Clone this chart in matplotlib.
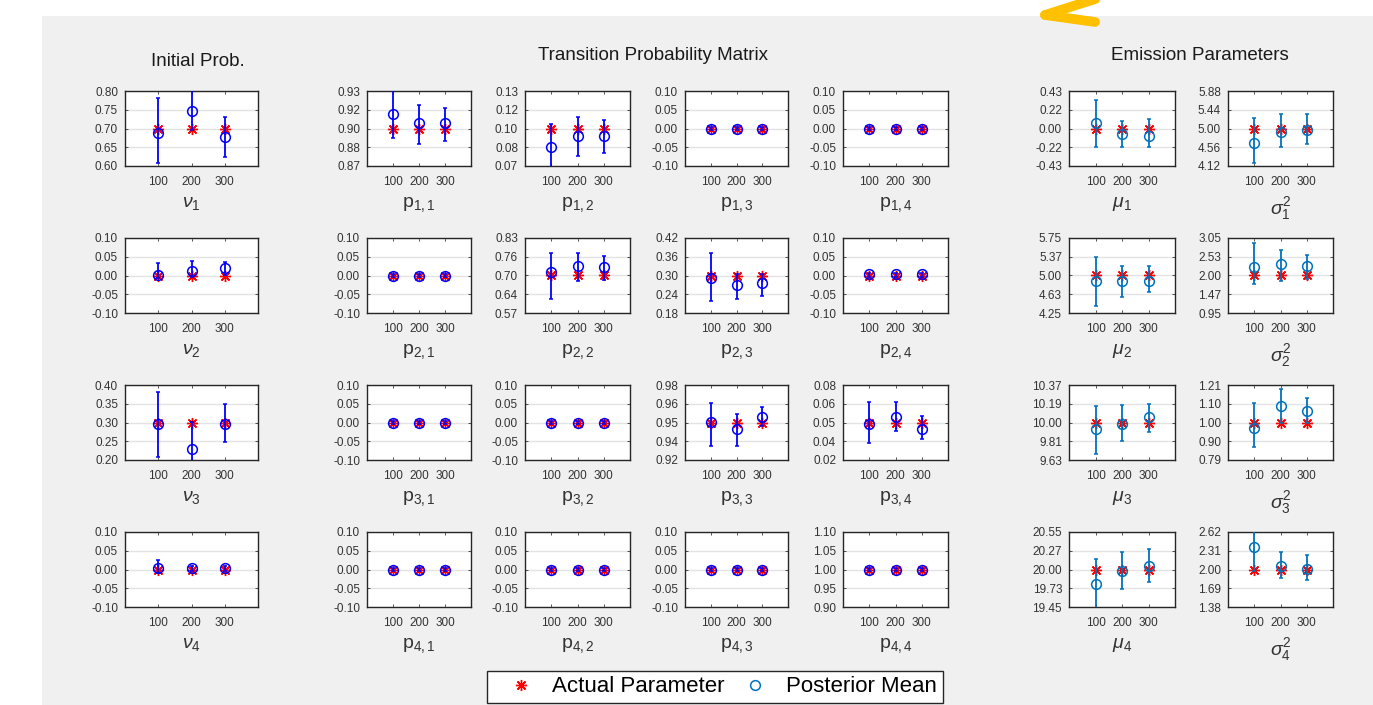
import matplotlib
matplotlib.use('Agg')
import matplotlib.pyplot as plt
from matplotlib.lines import Line2D
from matplotlib.patches import Rectangle

plt.rcParams['font.family'] = ['Liberation Sans', 'DejaVu Sans']
plt.rcParams['mathtext.fontset'] = 'custom'
plt.rcParams['mathtext.rm'] = 'Liberation Sans'
plt.rcParams['mathtext.it'] = 'Liberation Sans:italic'

W, H = 1373, 705
sizes = [100, 200, 300]

# initial probabilities nu_1..nu_4
nu_true = [0.70, 0.00, 0.30, 0.00]
nu_mean = [[0.687, 0.747, 0.678], [0.002, 0.011, 0.020], [0.296, 0.2285, 0.296], [0.003, 0.003, 0.003]]
nu_low = [[0.607, 0.695, 0.623], [-0.007, -0.004, 0.002], [0.209, 0.19, 0.249], [-0.008, -0.004, -0.004]]
nu_high = [[0.780, 0.815, 0.731], [0.033, 0.040, 0.036], [0.382, 0.302, 0.349], [0.025, 0.010, 0.010]]
nu_ylim = [(0.60, 0.80), (-0.1, 0.1), (0.20, 0.40), (-0.1, 0.1)]
nu_ticks = [['0.60', '0.65', '0.70', '0.75', '0.80'],
            ['-0.10', '-0.05', '0.00', '0.05', '0.10'],
            ['0.20', '0.25', '0.30', '0.35', '0.40'],
            ['-0.10', '-0.05', '0.00', '0.05', '0.10']]

# transition matrix p_ij
p_true = [[0.90, 0.10, 0.00, 0.00],
          [0.00, 0.70, 0.30, 0.00],
          [0.00, 0.00, 0.95, 0.05],
          [0.00, 0.00, 0.00, 1.00]]
p_mean = [[[0.9095, 0.9034, 0.9035], [0.0876, 0.0947, 0.0947], [0.0, 0.0, 0.0], [0.0, 0.0, 0.0]],
          [[0.0, 0.0, 0.0], [0.7105, 0.7337, 0.728], [0.2935, 0.2685, 0.275], [0.003, 0.003, 0.003]],
          [[0.0, 0.0, 0.0], [0.0, 0.0, 0.0], [0.9501, 0.9457, 0.9535], [0.0488, 0.0547, 0.0448]],
          [[0.0, 0.0, 0.0], [0.0, 0.0, 0.0], [0.0, 0.0, 0.0], [1.0, 1.0, 1.0]]]
p_low = [[[0.894, 0.890, 0.892], [0.070, 0.0817, 0.084], [-0.004, -0.004, -0.004], [-0.004, -0.004, -0.004]],
         [[-0.004, -0.004, -0.004], [0.619, 0.681, 0.6845], [0.22, 0.225, 0.236], [-0.003, -0.003, -0.003]],
         [[-0.004, -0.004, -0.004], [-0.004, -0.004, -0.004], [0.9343, 0.9343, 0.948], [0.0338, 0.0434, 0.0366]],
         [[-0.004, -0.004, -0.004], [-0.004, -0.004, -0.004], [-0.004, -0.004, -0.004], [0.997, 0.997, 0.997]]]
p_high = [[[0.930, 0.916, 0.914], [0.1033, 0.1077, 0.106], [0.004, 0.004, 0.004], [0.004, 0.004, 0.004]],
          [[0.004, 0.004, 0.004], [0.777, 0.777, 0.767], [0.371, 0.304, 0.304], [0.008, 0.008, 0.008]],
          [[0.004, 0.004, 0.004], [0.004, 0.004, 0.004], [0.9628, 0.9557, 0.9605], [0.0667, 0.0667, 0.0552]],
          [[0.004, 0.004, 0.004], [0.004, 0.004, 0.004], [0.004, 0.004, 0.004], [1.003, 1.003, 1.003]]]
zero_lim = (-0.1, 0.1)
zero_ticks = ['-0.10', '-0.05', '0.00', '0.05', '0.10']
p_ylim = [[(0.875, 0.925), (0.075, 0.125), zero_lim, zero_lim],
          [zero_lim, (0.57, 0.83), (0.18, 0.42), zero_lim],
          [zero_lim, zero_lim, (0.925, 0.975), (0.02, 0.08)],
          [zero_lim, zero_lim, zero_lim, (0.90, 1.10)]]
p_ticks = [[['0.87', '0.88', '0.90', '0.92', '0.93'], ['0.07', '0.08', '0.10', '0.12', '0.13'], zero_ticks, zero_ticks],
           [zero_ticks, ['0.57', '0.64', '0.70', '0.76', '0.83'], ['0.18', '0.24', '0.30', '0.36', '0.42'], zero_ticks],
           [zero_ticks, zero_ticks, ['0.92', '0.94', '0.95', '0.96', '0.98'], ['0.02', '0.04', '0.05', '0.06', '0.08']],
           [zero_ticks, zero_ticks, zero_ticks, ['0.90', '0.95', '1.00', '1.05', '1.10']]]

# emission parameters
mu_true = [0.0, 5.0, 10.0, 20.0]
mu_mean = [[0.058, -0.065, -0.087], [4.89, 4.89, 4.89], [9.933, 9.985, 10.057], [19.793, 19.978, 20.047]]
mu_low = [[-0.217, -0.217, -0.217], [4.398, 4.574, 4.668], [9.689, 9.82, 9.909], [19.40, 19.72, 19.817]]
mu_high = [[0.332, 0.087, 0.114], [5.377, 5.18, 5.195], [10.163, 10.173, 10.183], [20.15, 20.257, 20.306]]
mu_ylim = [(-0.43, 0.43), (4.25, 5.75), (9.63, 10.37), (19.45, 20.55)]
mu_ticks = [['-0.43', '-0.22', '0.00', '0.22', '0.43'], ['4.25', '4.63', '5.00', '5.37', '5.75'],
            ['9.63', '9.81', '10.00', '10.19', '10.37'], ['19.45', '19.73', '20.00', '20.27', '20.55']]
sig_true = [5.0, 2.0, 1.0, 2.0]
sig_mean = [[4.665, 4.92, 4.96], [2.227, 2.32, 2.27], [0.967, 1.094, 1.066], [2.372, 2.053, 2.015]]
sig_low = [[4.18, 4.56, 4.635], [1.753, 1.847, 1.895], [0.865, 0.9955, 0.9955], [1.975, 1.866, 1.82]]
sig_high = [[5.235, 5.335, 5.335], [2.908, 2.70, 2.576], [1.1075, 1.19, 1.135], [2.70, 2.289, 2.235]]
sig_ylim = [(4.12, 5.88), (0.95, 3.05), (0.79, 1.21), (1.38, 2.62)]
sig_ticks = [['4.12', '4.56', '5.00', '5.44', '5.88'], ['0.95', '1.47', '2.00', '2.53', '3.05'],
             ['0.79', '0.90', '1.00', '1.10', '1.21'], ['1.38', '1.69', '2.00', '2.31', '2.62']]

# layout in pixels (left, right) and (top, bottom)
col_px = [(125, 258), (367, 471), (525, 630), (685, 788), (843, 948), (1069, 1175), (1228, 1333)]
row_px = [(91, 166), (238, 313), (385, 460), (532, 607)]

MBLUE = '#0072BD'


def panel(col, row, true, mean, low, high, ylim, ticks, label, ecolor):
    x0, x1 = col_px[col]
    y0, y1 = row_px[row]
    ax = fig.add_axes([x0 / W, 1 - y1 / H, (x1 - x0) / W, (y1 - y0) / H], zorder=2)
    ax.set_facecolor('white')
    ax.plot(sizes, [true] * 3, linestyle='none', marker=(8, 2, 0), color='red',
            markersize=8, markeredgewidth=1.0, zorder=3)
    yerr = [[m - l for m, l in zip(mean, low)], [h - m for m, h in zip(mean, high)]]
    ax.errorbar(sizes, mean, yerr=yerr, fmt='o', color=ecolor, mfc='none',
                markersize=7, markeredgewidth=1.1, elinewidth=1.3, capsize=1.5, zorder=4)
    ax.set_xlim(0, 400)
    ax.set_ylim(*ylim)
    lo, hi = ylim
    ax.set_yticks([lo + k * (hi - lo) / 4 for k in range(5)])
    ax.set_yticklabels(ticks)
    ax.set_xticks(sizes)
    ax.set_xticklabels(['100', '200', '300'])
    ax.tick_params(direction='in', length=2, width=0.6, labelsize=8.5, colors='#333333',
                   top=True, right=True)
    ax.tick_params(axis='y', pad=5)
    ax.tick_params(axis='x', pad=7)
    ax.grid(axis='y', color='#E3E3E3', linewidth=1)
    ax.set_axisbelow(True)
    for s in ax.spines.values():
        s.set_color('#262626')
        s.set_linewidth(1.0)
    ax.set_xlabel(label, fontsize=14, color='#333333', labelpad=5)
    return ax


fig = plt.figure(figsize=(W / 100, H / 100), dpi=100)
fig.patch.set_facecolor('white')
fig.add_artist(Rectangle((42 / W, 0), 1 - 42 / W, 1 - 16 / H, transform=fig.transFigure,
                         facecolor='#F0F0F0', edgecolor='none', zorder=-5))

for r in range(4):
    panel(0, r, nu_true[r], nu_mean[r], nu_low[r], nu_high[r], nu_ylim[r], nu_ticks[r],
          r'$\nu_{%d}$' % (r + 1), 'blue')
    for c in range(4):
        panel(c + 1, r, p_true[r][c], p_mean[r][c], p_low[r][c], p_high[r][c], p_ylim[r][c],
              p_ticks[r][c], r'$\mathrm{p}_{%d,%d}$' % (r + 1, c + 1), 'blue')
    panel(5, r, mu_true[r], mu_mean[r], mu_low[r], mu_high[r], mu_ylim[r], mu_ticks[r],
          r'$\mu_{%d}$' % (r + 1), MBLUE)
    panel(6, r, sig_true[r], sig_mean[r], sig_low[r], sig_high[r], sig_ylim[r], sig_ticks[r],
          r'$\sigma_{%d}^{2}$' % (r + 1), MBLUE)

fig.text(198 / W, 1 - 62 / H, 'Initial Prob.', ha='center', va='center', fontsize=13.5, color='#1a1a1a')
fig.text(653 / W, 1 - 55 / H, 'Transition Probability Matrix', ha='center', va='center', fontsize=13.5,
         color='#1a1a1a')
fig.text(1200 / W, 1 - 55 / H, 'Emission Parameters', ha='center', va='center', fontsize=13.5, color='#1a1a1a')

handles = [Line2D([], [], linestyle='none', marker=(8, 2, 0), color='red', markersize=8, markeredgewidth=1.0),
           Line2D([], [], linestyle='none', marker='o', color=MBLUE, mfc='none', markersize=7, markeredgewidth=1.1)]
fig.legend(handles, ['Actual Parameter', 'Posterior Mean'], loc='center', ncol=2,
           bbox_to_anchor=(715 / W, 1 - 687 / H), frameon=True, fancybox=False, edgecolor='#262626',
           framealpha=1, fontsize=16, handletextpad=0.15, columnspacing=0.15, borderpad=0.25,
           handlelength=2.5, borderaxespad=0)

# highlight arrow in the corner of the screenshot
for xs, ys in [([1045, 1130], [15, -12]), ([1045, 1095], [15, 22])]:
    fig.add_artist(Line2D([x / W for x in xs], [1 - y / H for y in ys], transform=fig.transFigure,
                          color='#FFC000', linewidth=7, solid_capstyle='round', zorder=5))

fig.savefig('out.png', dpi=100)
